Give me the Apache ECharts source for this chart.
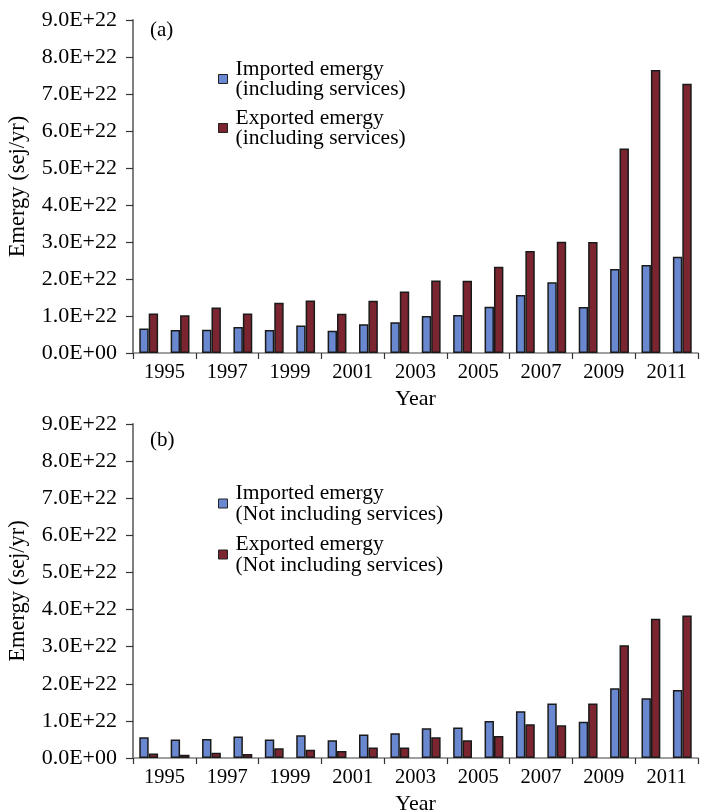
<!DOCTYPE html>
<html><head><meta charset="utf-8">
<script src="https://cdn.jsdelivr.net/npm/echarts@6/dist/echarts.min.js"></script>
<style>html,body{margin:0;padding:0;background:#fff}#c{width:701px;height:810px}</style>
</head><body><div id="c"></div>
<script>
// ---- data ----
const years = ['1995','1996','1997','1998','1999','2000','2001','2002','2003','2004','2005','2006','2007','2008','2009','2010','2011','2012'];
const yearLabels = ['1995','1997','1999','2001','2003','2005','2007','2009','2011'];
const importedWithServices = [0.66e22,0.62e22,0.63e22,0.70e22,0.62e22,0.74e22,0.60e22,0.78e22,0.83e22,1.00e22,1.03e22,1.25e22,1.57e22,1.91e22,1.24e22,2.27e22,2.38e22,2.60e22];
const exportedWithServices = [1.07e22,1.02e22,1.23e22,1.07e22,1.36e22,1.42e22,1.06e22,1.41e22,1.66e22,1.96e22,1.95e22,2.33e22,2.76e22,3.01e22,3.00e22,5.53e22,7.65e22,7.28e22];
const importedNoServices = [0.56e22,0.50e22,0.51e22,0.58e22,0.50e22,0.61e22,0.48e22,0.63e22,0.67e22,0.80e22,0.82e22,1.00e22,1.26e22,1.47e22,0.98e22,1.88e22,1.61e22,1.83e22];
const exportedNoServices = [0.12e22,0.09e22,0.14e22,0.11e22,0.26e22,0.22e22,0.19e22,0.28e22,0.28e22,0.56e22,0.48e22,0.59e22,0.91e22,0.88e22,1.47e22,3.04e22,3.75e22,3.84e22];
const seriesNames = [
  'Imported emergy\n(including services)',
  'Exported emergy\n(including services)',
  'Imported emergy\n(Not including services)',
  'Exported emergy\n(Not including services)'
];
const panelLabels = ['(a)','(b)'];
const yMax = 9e22, yStep = 1e22;

// ---- style ----
const FONT = "'Liberation Serif','Times New Roman',serif";
const BLUE = '#6a88d0', RED = '#7a2530', AXIS = '#808080';

function sci(v){
  if (v === 0) return '0.0E+00';
  const parts = v.toExponential(1).split('e');
  const n = parseInt(parts[1], 10);
  return parts[0] + 'E' + (n < 0 ? '-' : '+') + String(Math.abs(n)).padStart(2, '0');
}

const grids = [
  {left:133, top:20, width:565, height:333, outerBoundsMode:'none', containLabel:false},
  {left:133, top:424, width:565, height:334, outerBoundsMode:'none', containLabel:false}
];

const xAxes = [], yAxes = [];
grids.forEach((g, i) => {
  xAxes.push({
    type:'category', gridIndex:i, data:years,
    axisLine:{show:false}, axisTick:{show:false}, axisLabel:{show:false}
  });
  xAxes.push({
    type:'category', gridIndex:i, data:yearLabels, position:'bottom',
    axisLine:{show:true, lineStyle:{color:AXIS, width:1.5}},
    axisTick:{show:true, length:6, lineStyle:{color:'#333', width:1.2}},
    axisLabel:{color:'#000', fontFamily:FONT, fontSize:20.5, margin:9},
    name:'Year', nameLocation:'middle', nameGap:35,
    nameTextStyle:{color:'#000', fontFamily:FONT, fontSize:22}
  });
  yAxes.push({
    type:'value', gridIndex:i, min:0, max:yMax, interval:yStep,
    axisLine:{show:true, lineStyle:{color:AXIS, width:2}},
    axisTick:{show:true, length:7, lineStyle:{color:'#333', width:1.2}},
    splitLine:{show:false},
    axisLabel:{color:'#000', fontFamily:FONT, fontSize:22, margin:16, formatter:sci},
    name:'Emergy (sej/yr)', nameLocation:'middle', nameGap:103,
    nameTextStyle:{color:'#000', fontFamily:FONT, fontSize:22.5}
  });
});

function bar(name, data, color, gi){
  return {
    type:'bar', name:name, data:data, xAxisIndex:gi*2, yAxisIndex:gi,
    barWidth:'30%', barGap:'0%',
    itemStyle:{color:color, borderColor:'#1a1a1a', borderWidth:1.5},
    emphasis:{disabled:true}
  };
}

const legendText = (lh) => ({color:'#000', fontFamily:FONT, fontSize:21.5, lineHeight:lh, padding:[0,0,0,3]});

const option = {
  backgroundColor:'#fff',
  animation:false,
  title:[
    {text:panelLabels[0], left:150, top:20, padding:0, textStyle:{fontFamily:FONT, fontSize:21, fontWeight:'normal', color:'#000'}},
    {text:panelLabels[1], left:150, top:430, padding:0, textStyle:{fontFamily:FONT, fontSize:21, fontWeight:'normal', color:'#000'}}
  ],
  grid:grids,
  xAxis:xAxes,
  yAxis:yAxes,
  legend:[
    {data:[seriesNames[0], seriesNames[1]], orient:'vertical', left:218, top:58, padding:0,
     itemWidth:9, itemHeight:9, itemGap:7, icon:'rect', selectedMode:false,
     itemStyle:{borderColor:'#222', borderWidth:1}, textStyle:legendText(20)},
    {data:[seriesNames[2], seriesNames[3]], orient:'vertical', left:218, top:482, padding:0,
     itemWidth:9, itemHeight:9, itemGap:8, icon:'rect', selectedMode:false,
     itemStyle:{borderColor:'#222', borderWidth:1}, textStyle:legendText(21)}
  ],
  series:[
    bar(seriesNames[0], importedWithServices, BLUE, 0),
    bar(seriesNames[1], exportedWithServices, RED, 0),
    bar(seriesNames[2], importedNoServices, BLUE, 1),
    bar(seriesNames[3], exportedNoServices, RED, 1)
  ]
};
const chart = echarts.init(document.getElementById('c'), null, {renderer:'canvas'});
chart.setOption(option);
</script></body></html>
